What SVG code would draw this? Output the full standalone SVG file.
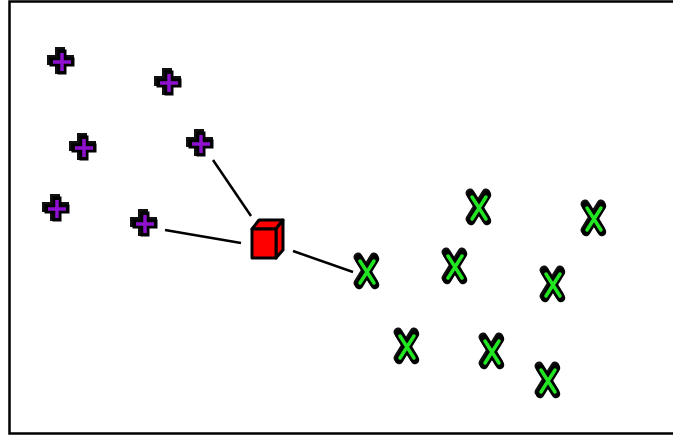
<svg xmlns="http://www.w3.org/2000/svg" width="673" height="435" viewBox="0 0 673 435">
<defs>
<style>
.edge{stroke:#000;stroke-width:2.5;fill:none}
.ps{stroke:#111;stroke-width:10;stroke-linecap:square;fill:none}
.pb{stroke:#000;stroke-width:9;stroke-linecap:square;fill:none}
.pi{stroke:#9010d0;stroke-width:3.5;stroke-linecap:butt;fill:none}
.xs{stroke:#111;stroke-width:9;stroke-linecap:round;fill:none}
.xb{stroke:#000;stroke-width:8.5;stroke-linecap:round;fill:none}
.xi{stroke:#22e622;stroke-width:3.5;stroke-linecap:round;fill:none}
.cube{fill:#ff0000;stroke:#000;stroke-width:3;stroke-linejoin:round}
</style>
<g id="plusShape">
<path class="ps" d="M-10,-2 H7 M-2,-10 V7"/>
<path class="pb" d="M-8,0 H8 M0,-8 V8"/>
<path class="pi" d="M-9,0 H9 M0,-9 V9"/>
</g>
<g id="xShape">
<path class="xs" d="M-9,-15 L7,11 M7,-15 L-9,11"/>
<path class="xb" d="M-8,-13 L8,13 M8,-13 L-8,13"/>
<path class="xi" d="M-7,-11 L7,11 M7,-11 L-7,11"/>
</g>
</defs>
<rect x="0" y="0" width="673" height="435" fill="#fff"/>
<rect x="9.5" y="1.5" width="680" height="432" fill="none" stroke="#000" stroke-width="2.5"/>
<g id="connectors">
<line class="edge" x1="213" y1="160" x2="251" y2="216"/>
<line class="edge" x1="165" y1="230" x2="241" y2="243"/>
<line class="edge" x1="293" y1="251" x2="353" y2="272"/>
</g>
<g id="p1"><use href="#plusShape" x="62" y="62"/></g>
<g id="p2"><use href="#plusShape" x="169" y="83"/></g>
<g id="p3"><use href="#plusShape" x="84" y="148"/></g>
<g id="p4"><use href="#plusShape" x="201" y="144"/></g>
<g id="p5"><use href="#plusShape" x="57" y="209"/></g>
<g id="p6"><use href="#plusShape" x="145" y="224"/></g>
<g id="hub">
<path class="cube" d="M252,229 L259,220 L283,220 L276,229 Z"/>
<path class="cube" d="M276,229 L283,220 L283,250 L276,258 Z"/>
<rect class="cube" x="252" y="229" width="24" height="29"/>
</g>
<g id="x1"><use href="#xShape" x="367" y="272"/></g>
<g id="x2"><use href="#xShape" x="479" y="208"/></g>
<g id="x3"><use href="#xShape" x="594" y="219"/></g>
<g id="x4"><use href="#xShape" x="455" y="267"/></g>
<g id="x5"><use href="#xShape" x="553" y="285"/></g>
<g id="x6"><use href="#xShape" x="407" y="347"/></g>
<g id="x7"><use href="#xShape" x="492" y="352"/></g>
<g id="x8"><use href="#xShape" x="548" y="381"/></g>
</svg>
